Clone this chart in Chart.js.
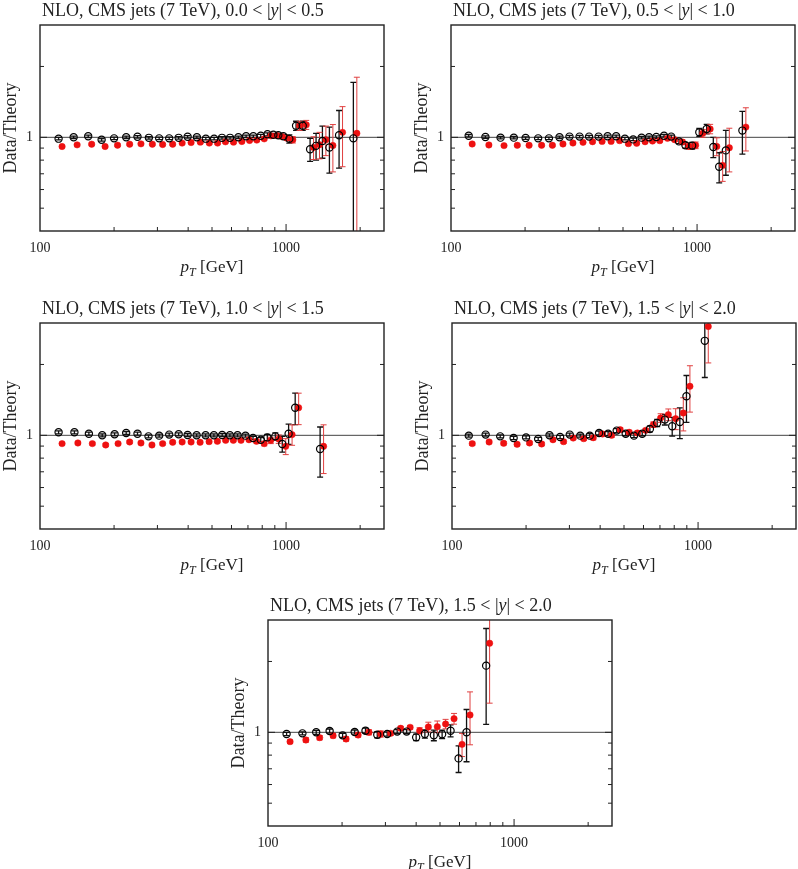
<!DOCTYPE html>
<html>
<head>
<meta charset="utf-8">
<script src="https://cdn.jsdelivr.net/npm/chart.js@4.4.1/dist/chart.umd.min.js"></script>
<style>
  html, body { margin: 0; padding: 0; background: #fff; overflow: hidden; }
  #page { position: relative; width: 798px; height: 869px; overflow: hidden; }
  .panel { position: absolute; width: 398px; height: 290px; }
</style>
</head>
<body>
<div id="page">
  <div class="panel" style="left:0px;top:0px"><canvas id="c1" width="398" height="290"></canvas></div>
  <div class="panel" style="left:411px;top:0px"><canvas id="c2" width="398" height="290"></canvas></div>
  <div class="panel" style="left:0px;top:298px"><canvas id="c3" width="398" height="290"></canvas></div>
  <div class="panel" style="left:412px;top:298px"><canvas id="c4" width="398" height="290"></canvas></div>
  <div class="panel" style="left:228px;top:595px"><canvas id="c5" width="398" height="290"></canvas></div>
</div>
<script>
// axis ticks
const xLabelTicks = [100, 1000];
const xMinorTicks = [200, 300, 400, 500, 600, 700, 800, 900, 2000];
const xMajorTicks = [1000];
const yLabelTicks = [1];
const yMinorTicks = [0.5, 0.6, 0.7, 0.8, 0.9, 2];
const yMajorTicks = [1];

// panel 1: 0.0 < |y| < 0.5
const pt1 = [119, 137, 157, 178, 200, 224, 249, 277, 305, 335, 366, 398, 434, 472, 510, 549, 592, 640, 688, 736, 789, 840, 888, 930, 975, 1031, 1098, 1169, 1252, 1324, 1405, 1500, 1642, 1877];
const black1 = [0.987, 1.00, 1.01, 0.976, 0.99, 1.00, 1.005, 0.995, 0.99, 0.99, 0.995, 1.005, 1.0, 0.987, 0.987, 0.995, 0.995, 1.0, 1.01, 1.01, 1.015, 1.03, 1.025, 1.02, 1.01, 0.985, 1.12, 1.12, 0.89, 0.92, 0.965, 0.905, 1.02, 0.99];
const blackErr1 = [0.012, 0.012, 0.012, 0.012, 0.012, 0.012, 0.012, 0.012, 0.012, 0.012, 0.012, 0.012, 0.012, 0.012, 0.012, 0.012, 0.012, 0.012, 0.012, 0.012, 0.015, 0.015, 0.015, 0.018, 0.02, 0.04, 0.05, 0.05, 0.1, 0.12, 0.15, 0.2, 0.28, 0.72];
const red1 = [0.914, 0.929, 0.935, 0.914, 0.926, 0.935, 0.938, 0.935, 0.932, 0.935, 0.945, 0.95, 0.954, 0.945, 0.945, 0.957, 0.954, 0.96, 0.97, 0.973, 0.985, 1.015, 1.018, 1.008, 0.992, 0.976, 1.12, 1.13, 0.905, 0.93, 0.976, 0.923, 1.05, 1.04];
const redErr1 = [0.01, 0.01, 0.01, 0.01, 0.01, 0.01, 0.01, 0.01, 0.01, 0.01, 0.01, 0.01, 0.01, 0.01, 0.01, 0.01, 0.01, 0.01, 0.01, 0.01, 0.012, 0.015, 0.015, 0.018, 0.02, 0.03, 0.05, 0.05, 0.1, 0.12, 0.14, 0.21, 0.3, 0.76];

// panel 2: 0.5 < |y| < 1.0
const pt2 = [118, 138, 159, 180, 201, 226, 250, 276, 303, 333, 364, 398, 433, 469, 509, 550, 595, 638, 683, 734, 785, 844, 897, 955, 1021, 1094, 1164, 1230, 1309, 1528];
const black2 = [1.016, 1.003, 0.997, 0.997, 0.993, 0.99, 0.99, 1.0, 1.007, 1.007, 1.007, 1.007, 1.01, 1.01, 0.987, 0.98, 0.997, 1.0, 1.003, 1.016, 1.007, 0.961, 0.925, 0.922, 1.05, 1.085, 0.91, 0.75, 0.88, 1.068];
const blackErr2 = [0.012, 0.012, 0.012, 0.012, 0.012, 0.012, 0.012, 0.012, 0.012, 0.012, 0.012, 0.012, 0.012, 0.012, 0.012, 0.012, 0.012, 0.012, 0.012, 0.012, 0.015, 0.02, 0.025, 0.03, 0.04, 0.05, 0.09, 0.11, 0.19, 0.22];
const red2 = [0.937, 0.928, 0.922, 0.925, 0.925, 0.925, 0.925, 0.937, 0.946, 0.952, 0.958, 0.961, 0.961, 0.968, 0.94, 0.943, 0.958, 0.964, 0.968, 0.99, 0.977, 0.955, 0.915, 0.925, 1.04, 1.085, 0.915, 0.76, 0.903, 1.105];
const redErr2 = [0.01, 0.01, 0.01, 0.01, 0.01, 0.01, 0.01, 0.01, 0.01, 0.01, 0.01, 0.01, 0.01, 0.01, 0.01, 0.01, 0.01, 0.01, 0.01, 0.01, 0.015, 0.02, 0.025, 0.03, 0.04, 0.05, 0.08, 0.11, 0.19, 0.23];

// panel 3: 1.0 < |y| < 1.5
const pt3 = [119, 138, 158, 179, 201, 224, 249, 276, 305, 335, 366, 398, 433, 471, 509, 550, 591, 635, 684, 734, 789, 839, 904, 965, 1024, 1089, 1375];
const black3 = [1.03, 1.03, 1.016, 1.0, 1.01, 1.023, 1.016, 0.99, 0.997, 1.007, 1.01, 1.003, 1.0, 1.0, 1.0, 1.003, 1.0, 1.0, 0.997, 0.974, 0.958, 0.98, 0.99, 0.919, 1.016, 1.31, 0.875];
const blackErr3 = [0.015, 0.015, 0.015, 0.015, 0.015, 0.015, 0.015, 0.015, 0.015, 0.015, 0.015, 0.015, 0.015, 0.015, 0.015, 0.015, 0.015, 0.015, 0.015, 0.015, 0.02, 0.03, 0.035, 0.07, 0.1, 0.2, 0.21];
const red3 = [0.922, 0.928, 0.922, 0.91, 0.922, 0.937, 0.928, 0.91, 0.922, 0.934, 0.937, 0.937, 0.934, 0.94, 0.943, 0.952, 0.952, 0.952, 0.958, 0.943, 0.922, 0.952, 0.964, 0.898, 1.007, 1.31, 0.898];
const redErr3 = [0.012, 0.012, 0.012, 0.012, 0.012, 0.012, 0.012, 0.012, 0.012, 0.012, 0.012, 0.012, 0.012, 0.012, 0.012, 0.012, 0.012, 0.012, 0.012, 0.015, 0.02, 0.03, 0.04, 0.07, 0.1, 0.2, 0.21];

// panel 4: 1.5 < |y| < 2.0
const pt4 = [117, 137, 157, 178, 200, 224, 249, 275, 301, 332, 363, 396, 431, 467, 508, 549, 593, 637, 682, 733, 785, 843, 897, 1065];
const black4 = [0.997, 1.007, 0.99, 0.974, 0.98, 0.965, 1.0, 0.984, 1.007, 0.997, 0.997, 1.023, 1.016, 1.047, 1.016, 0.997, 1.016, 1.064, 1.128, 1.166, 1.092, 1.139, 1.465, 2.52];
const blackErr4 = [0.015, 0.015, 0.015, 0.015, 0.015, 0.015, 0.015, 0.015, 0.015, 0.015, 0.02, 0.02, 0.02, 0.02, 0.02, 0.02, 0.02, 0.03, 0.04, 0.06, 0.1, 0.17, 0.33, 0.76];
const red4 = [0.922, 0.937, 0.925, 0.916, 0.928, 0.919, 0.958, 0.94, 0.974, 0.968, 0.977, 1.013, 1.0, 1.057, 1.03, 1.023, 1.05, 1.11, 1.185, 1.224, 1.177, 1.244, 1.615, 2.9];
const redErr4 = [0.015, 0.015, 0.015, 0.015, 0.015, 0.015, 0.015, 0.015, 0.015, 0.015, 0.02, 0.02, 0.02, 0.02, 0.02, 0.02, 0.02, 0.03, 0.05, 0.07, 0.12, 0.2, 0.36, 0.87];

// panel 5: labelled 1.5 < |y| < 2.0 as well
const pt5 = [119, 138, 157, 178, 201, 225, 249, 278, 305, 335, 366, 400, 434, 472, 510, 552, 595, 641, 770];
const black5 = [0.984, 0.99, 1.0, 1.013, 0.971, 1.003, 1.016, 0.977, 0.984, 1.007, 1.007, 0.952, 0.984, 0.971, 0.981, 1.016, 0.775, 1.0, 1.92];
const blackErr5 = [0.015, 0.015, 0.02, 0.02, 0.02, 0.02, 0.025, 0.03, 0.02, 0.02, 0.02, 0.03, 0.04, 0.05, 0.04, 0.06, 0.1, 0.25, 0.84];
const red5 = [0.913, 0.928, 0.949, 0.968, 0.937, 0.974, 1.0, 0.984, 0.99, 1.04, 1.05, 1.016, 1.054, 1.057, 1.085, 1.143, 0.889, 1.185, 2.39];
const redErr5 = [0.015, 0.02, 0.02, 0.02, 0.02, 0.02, 0.025, 0.03, 0.02, 0.02, 0.02, 0.03, 0.05, 0.06, 0.05, 0.06, 0.1, 0.3, 1.06];

// red points sit a little to the right of the black ones in the figure
const RED_SHIFT = 1.033;

const serif = '"Liberation Serif", "DejaVu Serif", serif';
const FONT = '18px ' + serif;
const FONT_IT = 'italic 18px ' + serif;
const AXIS_FONT = '17px ' + serif;
const AXIS_IT = 'italic 17px ' + serif;
const AXIS_SUB = 'italic 12px ' + serif;

function drawParts(ctx, parts, x, y, center) {
    var w = 0;
    parts.forEach(function (p) { ctx.font = p[1]; w += ctx.measureText(p[0]).width; });
    var cx = center ? x - w / 2 : x;
    parts.forEach(function (p) {
        ctx.font = p[1];
        ctx.fillText(p[0], cx, y + (p[2] || 0));
        cx += ctx.measureText(p[0]).width;
    });
}

// error bars, line at 1, frame, inward ticks, titles
const decor = {
    id: 'decor',
    beforeDatasetsDraw: function (chart) {
        var ctx = chart.ctx, a = chart.chartArea;
        var ys = chart.scales.y;
        ctx.save();
        ctx.beginPath();
        ctx.rect(a.left, a.top, a.right - a.left, a.bottom - a.top);
        ctx.clip();
        // reference line at 1
        var y1 = ys.getPixelForValue(1);
        ctx.strokeStyle = '#444';
        ctx.lineWidth = 1;
        ctx.beginPath();
        ctx.moveTo(a.left, y1);
        ctx.lineTo(a.right, y1);
        ctx.stroke();
        // error bars
        chart.data.datasets.forEach(function (ds, i) {
            var meta = chart.getDatasetMeta(i);
            ctx.strokeStyle = ds.barColor;
            ctx.lineWidth = ds.barWidth;
            ds.data.forEach(function (d, j) {
                var x = meta.data[j].x;
                var top = ys.getPixelForValue(d.y + ds.errs[j]);
                var bot = ys.getPixelForValue(d.y - ds.errs[j]);
                ctx.beginPath();
                ctx.moveTo(x, top); ctx.lineTo(x, bot);
                ctx.moveTo(x - 3, top); ctx.lineTo(x + 3, top);
                ctx.moveTo(x - 3, bot); ctx.lineTo(x + 3, bot);
                ctx.stroke();
            });
        });
        ctx.restore();
    },
    afterDraw: function (chart) {
        var ctx = chart.ctx, a = chart.chartArea;
        var xs = chart.scales.x, ys = chart.scales.y;
        ctx.save();
        ctx.strokeStyle = '#222';
        ctx.lineWidth = 1;
        ctx.beginPath();
        xMinorTicks.forEach(function (v) {
            var x = xs.getPixelForValue(v);
            ctx.moveTo(x, a.bottom); ctx.lineTo(x, a.bottom - 4);
        });
        xMajorTicks.forEach(function (v) {
            var x = xs.getPixelForValue(v);
            ctx.moveTo(x, a.bottom); ctx.lineTo(x, a.bottom - 7);
        });
        yMinorTicks.forEach(function (v) {
            var y = ys.getPixelForValue(v);
            ctx.moveTo(a.left, y); ctx.lineTo(a.left + 4, y);
            ctx.moveTo(a.right, y); ctx.lineTo(a.right - 4, y);
        });
        yMajorTicks.forEach(function (v) {
            var y = ys.getPixelForValue(v);
            ctx.moveTo(a.left, y); ctx.lineTo(a.left + 7, y);
            ctx.moveTo(a.right, y); ctx.lineTo(a.right - 7, y);
        });
        ctx.stroke();
        // frame
        ctx.lineWidth = 1.4;
        ctx.strokeRect(a.left, a.top, a.right - a.left, a.bottom - a.top);
        // titles
        ctx.fillStyle = '#222';
        ctx.textBaseline = 'alphabetic';
        var r = chart.options.plugins.decor.range;
        drawParts(ctx, [['NLO, CMS jets (7 TeV), ' + r[0] + ' < |', FONT], ['y', FONT_IT], ['| < ' + r[1], FONT]], a.left + 2, a.top - 9, false);
        drawParts(ctx, [['p', AXIS_IT], ['T', AXIS_SUB, 4], [' [GeV]', AXIS_FONT]], (a.left + a.right) / 2, a.bottom + 41, true);
        ctx.restore();
    }
};

const panels = [
    { id: 'c1', range: ['0.0', '0.5'], pt: pt1, black: black1, blackErr: blackErr1, red: red1, redErr: redErr1 },
    { id: 'c2', range: ['0.5', '1.0'], pt: pt2, black: black2, blackErr: blackErr2, red: red2, redErr: redErr2 },
    { id: 'c3', range: ['1.0', '1.5'], pt: pt3, black: black3, blackErr: blackErr3, red: red3, redErr: redErr3 },
    { id: 'c4', range: ['1.5', '2.0'], pt: pt4, black: black4, blackErr: blackErr4, red: red4, redErr: redErr4 },
    { id: 'c5', range: ['1.5', '2.0'], pt: pt5, black: black5, blackErr: blackErr5, red: red5, redErr: redErr5 }
];

panels.forEach(function (p) {
    var ctx = document.getElementById(p.id).getContext('2d');
    new Chart(ctx, {
        type: 'scatter',
        data: {
            datasets: [
                {
                    data: p.pt.map(function (x, i) { return { x: x, y: p.black[i] }; }),
                    errs: p.blackErr,
                    barColor: '#111',
                    barWidth: 1.3,
                    pointStyle: 'circle',
                    pointRadius: 3.6,
                    borderColor: '#000',
                    borderWidth: 1.2,
                    backgroundColor: 'rgba(0,0,0,0)'
                },
                {
                    data: p.pt.map(function (x, i) { return { x: x * RED_SHIFT, y: p.red[i] }; }),
                    errs: p.redErr,
                    barColor: '#e04040',
                    barWidth: 1,
                    pointStyle: 'circle',
                    pointRadius: 3.2,
                    borderColor: '#ee1111',
                    borderWidth: 0.5,
                    backgroundColor: '#ee1111'
                }
            ]
        },
        options: {
            responsive: false,
            animation: false,
            events: [],
            layout: { padding: { top: 25, right: 14, left: 0, bottom: 0 } },
            scales: {
                x: {
                    type: 'logarithmic',
                    min: 100,
                    max: 2500,
                    afterBuildTicks: function (axis) { axis.ticks = xLabelTicks.map(function (v) { return { value: v }; }); },
                    afterFit: function (axis) { axis.height = 59; },
                    grid: { display: false, drawTicks: false },
                    border: { display: false },
                    ticks: {
                        autoSkip: false,
                        maxRotation: 0,
                        padding: 9,
                        color: '#222',
                        font: { family: serif, size: 14 },
                        callback: function (v) { return String(v); }
                    }
                },
                y: {
                    type: 'logarithmic',
                    min: 0.4,
                    max: 3,
                    afterBuildTicks: function (axis) { axis.ticks = yLabelTicks.map(function (v) { return { value: v }; }); },
                    afterFit: function (axis) { axis.width = 40; },
                    grid: { display: false, drawTicks: false },
                    border: { display: false },
                    title: {
                        display: true,
                        text: 'Data/Theory',
                        padding: 0,
                        color: '#222',
                        font: { family: serif, size: 18 }
                    },
                    ticks: {
                        padding: 7,
                        color: '#222',
                        font: { family: serif, size: 14 },
                        callback: function (v) { return String(v); }
                    }
                }
            },
            plugins: {
                legend: { display: false },
                tooltip: { enabled: false },
                decor: { range: p.range }
            }
        },
        plugins: [decor]
    });
});
</script>
</body>
</html>
